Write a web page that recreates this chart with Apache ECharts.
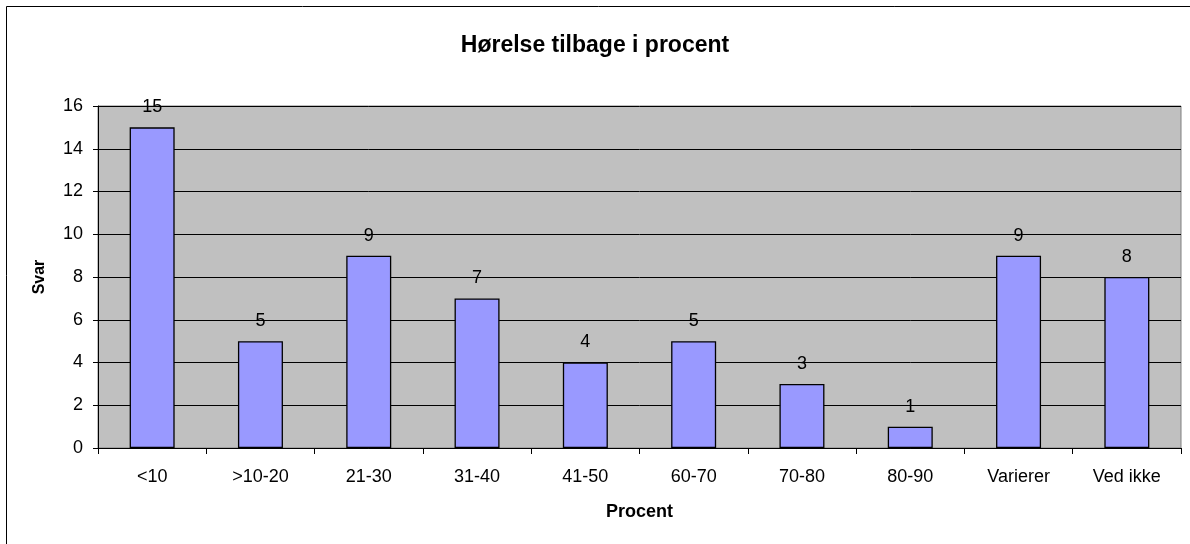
<!DOCTYPE html>
<html>
<head>
<meta charset="utf-8">
<script src="https://cdn.jsdelivr.net/npm/echarts@6/dist/echarts.min.js"></script>
<style>
  html, body { margin: 0; padding: 0; background: #fff; }
  #chart { width: 1190px; height: 544px; }
</style>
</head>
<body>
<div id="chart"></div>
<script>
const categories = ['<10', '>10-20', '21-30', '31-40', '41-50', '60-70', '70-80', '80-90', 'Varierer', 'Ved ikke']
const svar = [15, 5, 9, 7, 4, 5, 3, 1, 9, 8]

const font = 'Arial, "Liberation Sans", sans-serif'

const chart = echarts.init(document.getElementById('chart'))

chart.setOption({
  animation: false,
  textStyle: { fontFamily: font, color: '#000' },
  title: {
    text: 'Hørelse tilbage i procent',
    left: 'center',
    top: 29,
    textStyle: { fontFamily: font, fontSize: 23, fontWeight: 'bold', color: '#000' },
  },
  // outer chart border (right/bottom edges fall outside the picture)
  graphic: [{
    type: 'rect',
    shape: { x: 6.5, y: 6.5, width: 1200, height: 600 },
    style: { fill: 'none', stroke: '#000', lineWidth: 1 },
    silent: true,
  }],
  grid: {
    left: 98, right: 9, top: 106, bottom: 96,
    show: true,
    backgroundColor: '#c0c0c0',
    borderColor: '#808080',
    borderWidth: 1,
  },
  xAxis: {
    type: 'category',
    data: categories,
    name: 'Procent',
    nameLocation: 'middle',
    nameGap: 55,
    nameTextStyle: { fontFamily: font, fontSize: 18, fontWeight: 'bold', color: '#000' },
    axisLine: { lineStyle: { color: '#000', width: 1 } },
    axisTick: { show: true, length: 6, lineStyle: { color: '#000' } },
    axisLabel: { fontFamily: font, fontSize: 18, color: '#000', margin: 20 },
  },
  yAxis: {
    type: 'value',
    min: 0,
    max: 16,
    interval: 2,
    name: 'Svar',
    nameLocation: 'middle',
    nameGap: 50,
    nameTextStyle: { fontFamily: font, fontSize: 16, fontWeight: 'bold', color: '#000' },
    axisLine: { show: true, lineStyle: { color: '#000', width: 1 } },
    axisTick: { show: true, length: 5, lineStyle: { color: '#000' } },
    axisLabel: { fontFamily: font, fontSize: 18, color: '#000', margin: 15 },
    splitLine: { show: true, lineStyle: { color: '#000', width: 1 } },
  },
  series: [{
    type: 'bar',
    data: svar,
    barWidth: 45,
    itemStyle: { color: '#9999ff', borderColor: '#000', borderWidth: 1.3 },
    label: {
      show: true,
      position: 'top',
      distance: 11,
      fontFamily: font,
      fontSize: 18,
      color: '#000',
    },
  }],
})
</script>
</body>
</html>
